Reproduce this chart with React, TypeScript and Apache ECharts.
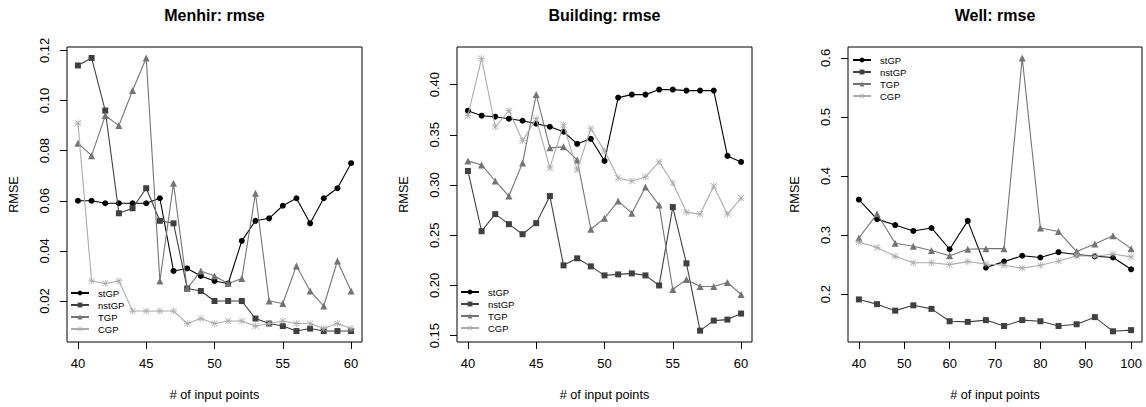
import React, { useEffect, useRef } from "react";
import * as echarts from "echarts";

const menhirX = [40, 41, 42, 43, 44, 45, 46, 47, 48, 49, 50, 51, 52, 53, 54, 55, 56, 57, 58, 59, 60];
const menhirStGP = [0.060, 0.060, 0.059, 0.059, 0.059, 0.059, 0.061, 0.032, 0.033, 0.030, 0.028, 0.027, 0.044, 0.052, 0.053, 0.058, 0.061, 0.051, 0.061, 0.065, 0.075];
const menhirNstGP = [0.114, 0.117, 0.096, 0.055, 0.057, 0.065, 0.052, 0.051, 0.025, 0.024, 0.020, 0.020, 0.020, 0.013, 0.011, 0.010, 0.008, 0.009, 0.008, 0.008, 0.008];
const menhirTGP = [0.083, 0.078, 0.094, 0.090, 0.104, 0.117, 0.028, 0.067, 0.025, 0.032, 0.030, 0.027, 0.029, 0.063, 0.020, 0.019, 0.034, 0.024, 0.018, 0.036, 0.024];
const menhirCGP = [0.091, 0.028, 0.027, 0.028, 0.016, 0.016, 0.016, 0.016, 0.011, 0.013, 0.011, 0.012, 0.012, 0.010, 0.011, 0.012, 0.011, 0.011, 0.009, 0.011, 0.009];

const buildingX = [40, 41, 42, 43, 44, 45, 46, 47, 48, 49, 50, 51, 52, 53, 54, 55, 56, 57, 58, 59, 60];
const buildingStGP = [0.374, 0.369, 0.368, 0.366, 0.364, 0.361, 0.358, 0.353, 0.341, 0.346, 0.324, 0.387, 0.390, 0.390, 0.395, 0.395, 0.394, 0.394, 0.394, 0.329, 0.323];
const buildingNstGP = [0.314, 0.254, 0.271, 0.261, 0.251, 0.262, 0.289, 0.220, 0.227, 0.219, 0.210, 0.211, 0.212, 0.210, 0.200, 0.278, 0.222, 0.155, 0.165, 0.166, 0.172];
const buildingTGP = [0.324, 0.320, 0.304, 0.289, 0.322, 0.390, 0.337, 0.338, 0.325, 0.256, 0.267, 0.284, 0.272, 0.298, 0.280, 0.196, 0.206, 0.199, 0.199, 0.203, 0.191];
const buildingCGP = [0.369, 0.426, 0.358, 0.374, 0.344, 0.366, 0.317, 0.360, 0.315, 0.356, 0.334, 0.307, 0.304, 0.308, 0.323, 0.302, 0.273, 0.271, 0.299, 0.271, 0.287];

const wellX = [40, 44, 48, 52, 56, 60, 64, 68, 72, 76, 80, 84, 88, 92, 96, 100];
const wellStGP = [0.360, 0.327, 0.317, 0.307, 0.312, 0.276, 0.324, 0.245, 0.255, 0.265, 0.262, 0.271, 0.267, 0.264, 0.262, 0.242];
const wellNstGP = [0.191, 0.183, 0.172, 0.181, 0.175, 0.154, 0.153, 0.156, 0.146, 0.156, 0.154, 0.146, 0.149, 0.161, 0.137, 0.139];
const wellTGP = [0.295, 0.336, 0.286, 0.281, 0.274, 0.265, 0.276, 0.277, 0.277, 0.600, 0.312, 0.306, 0.272, 0.285, 0.299, 0.277];
const wellCGP = [0.288, 0.279, 0.264, 0.253, 0.253, 0.250, 0.255, 0.251, 0.249, 0.244, 0.249, 0.256, 0.265, 0.264, 0.268, 0.263];

const panelTitles = ["Menhir: rmse", "Building: rmse", "Well: rmse"];
const methodNames = ["stGP", "nstGP", "TGP", "CGP"];
const xTicks1 = [40, 45, 50, 55, 60];
const xTicks3 = [40, 50, 60, 70, 80, 90, 100];
const yTicks1 = [0.02, 0.04, 0.06, 0.08, 0.1, 0.12];
const yTicks2 = [0.15, 0.2, 0.25, 0.3, 0.35, 0.4];
const yTicks3 = [0.2, 0.3, 0.4, 0.5, 0.6];
const xAxisTitle = "# of input points";
const yAxisTitle = "RMSE";

const FONT = '"Liberation Sans", Arial, Helvetica, sans-serif';
const COLORS = ["#000000", "#404040", "#747474", "#acacac"];
const STAR =
  "path://M9 0L11 0L11 20L9 20Z M0 9L20 9L20 11L0 11Z M2.21 0.79L19.21 17.79L17.79 19.21L0.79 2.21Z M17.79 0.79L19.21 2.21L2.21 19.21L0.79 17.79Z";
const SYMBOLS = ["circle", "rect", "triangle", STAR];
const SIZES = [6, 6, 7, 7];

const GRIDS = [
  { left: 67, top: 47, width: 295, height: 295 },
  { left: 457, top: 47, width: 295, height: 295 },
  { left: 848, top: 47, width: 294, height: 295 },
];

export default function App() {
  const ref = useRef<HTMLDivElement>(null);

  useEffect(() => {
    if (!ref.current) return;
    const chart = echarts.init(ref.current, undefined, { renderer: "svg" });

    const panels = [
      { x: menhirX, ys: [menhirStGP, menhirNstGP, menhirTGP, menhirCGP], xmin: 39.2, xmax: 60.8, ymin: 0.00364, ymax: 0.12136, xt: xTicks1, yt: yTicks1, dec: 2 },
      { x: buildingX, ys: [buildingStGP, buildingNstGP, buildingTGP, buildingCGP], xmin: 39.2, xmax: 60.8, ymin: 0.1437, ymax: 0.4374, xt: xTicks1, yt: yTicks2, dec: 2 },
      { x: wellX, ys: [wellStGP, wellNstGP, wellTGP, wellCGP], xmin: 37.6, xmax: 102.4, ymin: 0.1189, ymax: 0.6185, xt: xTicks3, yt: yTicks3, dec: 1 },
    ];

    const textStyleBase = { fontFamily: FONT, color: "#000" };

    const grid = GRIDS.map((g) => ({
      ...g,
      show: true,
      borderColor: "#000",
      borderWidth: 1,
      backgroundColor: "transparent",
      containLabel: false,
    }));

    const xAxis = panels.map((p, i) => ({
      type: "value",
      gridIndex: i,
      min: p.xmin,
      max: p.xmax,
      name: xAxisTitle,
      nameLocation: "middle",
      nameGap: 46,
      nameTextStyle: { ...textStyleBase, fontSize: 12.7 },
      axisLine: { show: false },
      splitLine: { show: false },
      axisTick: { show: true, length: 7, inside: false, customValues: p.xt, lineStyle: { color: "#000", width: 1 } },
      axisLabel: {
        show: true,
        customValues: p.xt,
        margin: 15,
        fontSize: 13,
        fontFamily: FONT,
        color: "#000",
        formatter: (v: number) => String(Math.round(v)),
      },
    }));

    const yAxis = panels.map((p, i) => ({
      type: "value",
      gridIndex: i,
      min: p.ymin,
      max: p.ymax,
      name: yAxisTitle,
      nameLocation: "middle",
      nameGap: 47,
      nameTextStyle: { ...textStyleBase, fontSize: 12.7 },
      axisLine: { show: false },
      splitLine: { show: false },
      axisTick: { show: true, length: 7, inside: false, customValues: p.yt, lineStyle: { color: "#000", width: 1 } },
      axisLabel: {
        show: true,
        customValues: p.yt,
        rotate: 90,
        margin: 16,
        fontSize: 13,
        fontFamily: FONT,
        color: "#000",
        formatter: (v: number) => v.toFixed(p.dec),
      },
    }));

    const series: any[] = [];
    panels.forEach((p, i) => {
      p.ys.forEach((vals, k) => {
        series.push({
          type: "line",
          name: methodNames[k],
          xAxisIndex: i,
          yAxisIndex: i,
          data: p.x.map((xv, j) => [xv, vals[j]]),
          symbol: SYMBOLS[k],
          symbolSize: SIZES[k],
          showAllSymbol: true,
          lineStyle: { color: COLORS[k], width: 1.1 },
          itemStyle: { color: COLORS[k], borderWidth: 0 },
          emphasis: { disabled: true },
          z: 2 + k,
        });
      });
    });

    const legendPos = [
      { left: 70, top: 287 },
      { left: 460, top: 286 },
      { left: 852, top: 54 },
    ];
    const legend = legendPos.map((pos) => ({
      ...pos,
      orient: "vertical",
      data: methodNames,
      itemWidth: 18,
      itemHeight: 6,
      itemGap: 0,
      padding: 0,
      selectedMode: false,
      textStyle: { fontFamily: FONT, fontSize: 9.5, color: "#000", lineHeight: 12, padding: [0, 0, 0, 4] },
    }));

    const graphic = GRIDS.map((g, i) => ({
      type: "text",
      x: g.left + g.width / 2,
      y: 15.7,
      style: {
        text: panelTitles[i],
        fontFamily: FONT,
        fontSize: 16,
        fontWeight: "bold",
        fill: "#000",
        align: "center",
        verticalAlign: "middle",
      },
    }));

    chart.setOption({
      animation: false,
      backgroundColor: "#ffffff",
      grid,
      xAxis,
      yAxis,
      series,
      legend,
      graphic,
    } as any);

    return () => chart.dispose();
  }, []);

  return (
    <div
      ref={ref}
      style={{ position: "fixed", left: 0, top: 0, width: 1146, height: 407 }}
    />
  );
}
